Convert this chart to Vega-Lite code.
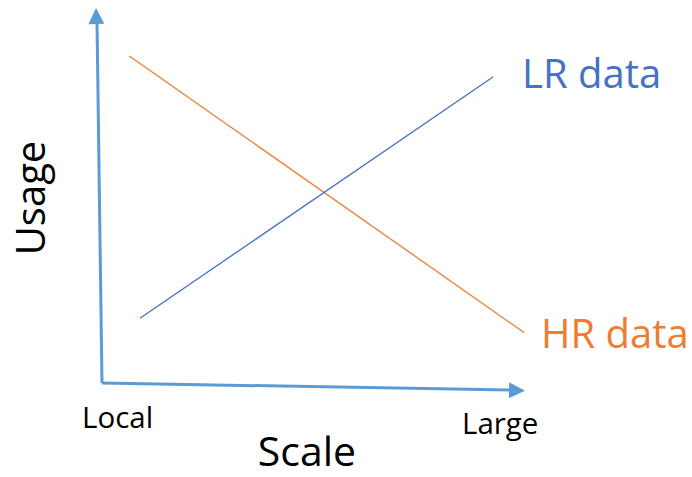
{
  "$schema": "https://vega.github.io/schema/vega-lite/v6.json",
  "width": 692,
  "height": 477,
  "padding": 0,
  "autosize": {"type": "fit", "contains": "padding"},
  "background": "white",
  "config": {"view": {"stroke": null}},
  "datasets": {
    "axes": [
      {"axis": "Usage", "x": 102, "y": 94, "x2": 97, "y2": 455},
      {"axis": "Scale", "x": 102, "y": 94, "x2": 510, "y2": 87}
    ],
    "series": [
      {"series": "HR data", "scale": 129.3, "usage": 421},
      {"series": "HR data", "scale": 524.3, "usage": 144.3},
      {"series": "LR data", "scale": 140, "usage": 158.7},
      {"series": "LR data", "scale": 493.3, "usage": 400.3}
    ],
    "serieslabels": [
      {"series": "LR data", "x": 522, "y": 389},
      {"series": "HR data", "x": 541, "y": 129}
    ],
    "ticklabels": [
      {"label": "Local", "x": 82, "y": 49},
      {"label": "Large", "x": 462, "y": 43}
    ]
  },
  "layer": [
    {
      "data": {"name": "axes"},
      "mark": {"type": "rule", "color": "#5B9BD5", "strokeWidth": 3},
      "encoding": {
        "x": {"field": "x", "type": "quantitative", "scale": {"domain": [0, 692], "nice": false, "zero": false}, "axis": null},
        "y": {"field": "y", "type": "quantitative", "scale": {"domain": [0, 477], "nice": false, "zero": false}, "axis": null},
        "x2": {"field": "x2"},
        "y2": {"field": "y2"}
      }
    },
    {
      "data": {"values": [{"axis": "Usage", "x": 96.2, "y": 461}]},
      "mark": {"type": "point", "shape": "M0,-1L1,1L-1,1Z", "size": 256, "filled": true, "color": "#5B9BD5", "opacity": 1, "angle": -1},
      "encoding": {
        "x": {"field": "x", "type": "quantitative"},
        "y": {"field": "y", "type": "quantitative"}
      }
    },
    {
      "data": {"values": [{"axis": "Scale", "x": 517, "y": 86.5}]},
      "mark": {"type": "point", "shape": "M1,0L-1,1L-1,-1Z", "size": 256, "filled": true, "color": "#5B9BD5", "opacity": 1, "angle": 1},
      "encoding": {
        "x": {"field": "x", "type": "quantitative"},
        "y": {"field": "y", "type": "quantitative"}
      }
    },
    {
      "data": {"name": "series"},
      "mark": {"type": "line", "strokeWidth": 1.3},
      "encoding": {
        "x": {"field": "scale", "type": "quantitative"},
        "y": {"field": "usage", "type": "quantitative"},
        "color": {"field": "series", "type": "nominal", "scale": {"domain": ["LR data", "HR data"], "range": ["#4472C4", "#ED7D31"]}, "legend": null}
      }
    },
    {
      "data": {"name": "serieslabels"},
      "mark": {"type": "text", "align": "left", "baseline": "alphabetic", "font": "Open Sans", "fontSize": 40},
      "encoding": {
        "x": {"field": "x", "type": "quantitative"},
        "y": {"field": "y", "type": "quantitative"},
        "text": {"field": "series"},
        "color": {"field": "series", "type": "nominal", "legend": null}
      }
    },
    {
      "data": {"name": "ticklabels"},
      "mark": {"type": "text", "align": "left", "baseline": "alphabetic", "font": "Open Sans", "fontSize": 29.5, "color": "black"},
      "encoding": {
        "x": {"field": "x", "type": "quantitative"},
        "y": {"field": "y", "type": "quantitative"},
        "text": {"field": "label"}
      }
    },
    {
      "data": {"values": [{"title": "Scale", "x": 307, "y": 11}]},
      "mark": {"type": "text", "align": "center", "baseline": "alphabetic", "font": "Open Sans", "fontSize": 41, "color": "black"},
      "encoding": {
        "x": {"field": "x", "type": "quantitative"},
        "y": {"field": "y", "type": "quantitative"},
        "text": {"field": "title"}
      }
    },
    {
      "data": {"values": [{"title": "Usage", "x": 33, "y": 279}]},
      "mark": {"type": "text", "align": "center", "baseline": "middle", "angle": 270, "font": "Open Sans", "fontSize": 40, "color": "black"},
      "encoding": {
        "x": {"field": "x", "type": "quantitative"},
        "y": {"field": "y", "type": "quantitative"},
        "text": {"field": "title"}
      }
    }
  ]
}
